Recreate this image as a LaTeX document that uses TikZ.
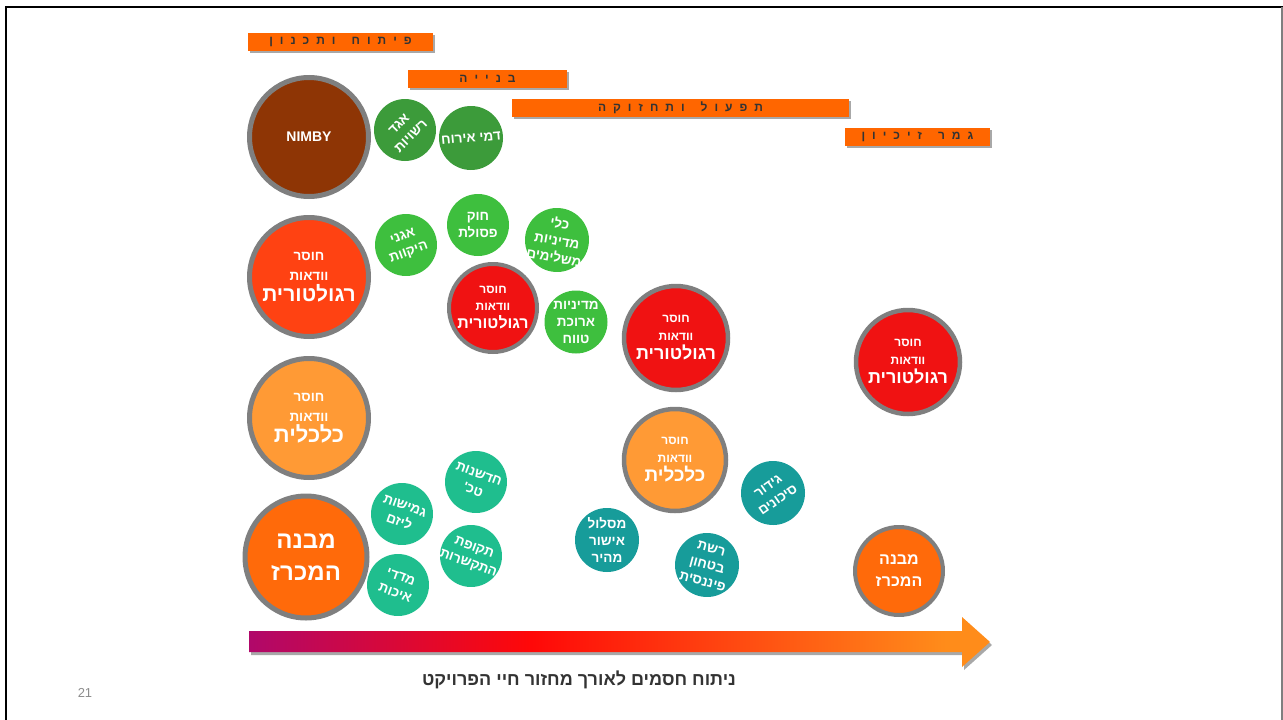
\documentclass[tikz,border=0pt]{standalone}
\usepackage{fontspec}
\setmainfont{Liberation Sans}
\newfontfamily\hebfont[Script=Hebrew]{Liberation Sans}
\TeXXeTstate=1
\newcommand{\heb}[1]{\beginR #1\endR}
\newcommand{\fs}[2]{\fontsize{#1}{#2}\selectfont}
\newcommand{\spaced}[1]{{\spaceskip=7pt\relax\beginR #1\endR}}
\definecolor{ringgray}{HTML}{7F7F7F}
\definecolor{cbrown}{HTML}{8E3505}
\definecolor{cdkgreen}{HTML}{3C9B3A}
\definecolor{cltgreen}{HTML}{3EBF3E}
\definecolor{corred}{HTML}{FF4212}
\definecolor{cred}{HTML}{F01212}
\definecolor{cltorange}{HTML}{FF9A35}
\definecolor{corange}{HTML}{FF6A0A}
\definecolor{cteal}{HTML}{1FBE8E}
\definecolor{cdkteal}{HTML}{179C9A}
\definecolor{barorange}{HTML}{FF6600}
\definecolor{bartext}{HTML}{333333}
\definecolor{shadowgray}{HTML}{A8A8A8}
\definecolor{apurple}{HTML}{B0086A}
\definecolor{ared}{HTML}{FF0808}
\definecolor{aorange}{HTML}{FF8C1A}
\pgfdeclarehorizontalshading{lifeshade}{100bp}{color(0bp)=(apurple); color(25bp)=(apurple); color(44bp)=(ared); color(72bp)=(aorange); color(100bp)=(aorange)}
\tikzset{
  phasebar/.style={fill=barorange, inner sep=0pt, minimum height=18pt, text=bartext,
    font=\hebfont\bfseries\fs{12}{13}},
  ringed/.style={circle, draw=ringgray, inner sep=0pt, text=white, align=center},
  bubble/.style={circle, inner sep=-10pt, minimum size=62pt, text=white, align=center, font=\hebfont\bfseries\fs{13.5}{17}},
}
\newcommand{\wg}{\hspace{16pt}}
\begin{document}
\begin{tikzpicture}[x=1pt,y=-1pt]
\useasboundingbox (0,0) rectangle (1283,720);
% frame
\draw[line width=2.5pt] (6,720) -- (6,7) -- (1283,7);
\draw[ringgray, line width=1.5pt] (1282,7) -- (1282,720);

% phase bars
\foreach \cx/\cy/\w in {340.5/42/185, 487.5/79/159, 680.5/108/337, 917.5/137/145}
  \fill[shadowgray] (\cx-\w/2+2,\cy-9+2) rectangle (\cx+\w/2+2,\cy+9+2);
\node[phasebar, minimum width=185pt] (bar1) at (340.5,42) {\spaced{פ י ת ו ח\wg ו ת כ נ ו ן}};
\node[phasebar, minimum width=159pt] (bar2) at (487.5,79) {\spaced{ב נ י י ה}};
\node[phasebar, minimum width=337pt] (bar3) at (680.5,108) {\spaced{ת פ ע ו ל\wg ו ת ח ז ו ק ה}};
\node[phasebar, minimum width=145pt] (bar4) at (917.5,137) {\spaced{ג מ ר\wg ז י כ י ו ן}};

% large column
\node[ringed, fill=cbrown, line width=5pt, minimum size=119pt, font=\bfseries\fs{14}{16}] (nimby) at (309,137) {NIMBY};
\node[ringed, fill=corred, line width=5pt, minimum size=119pt, font=\hebfont\bfseries\fs{13.5}{20}] (reg1) at (309,277)
  {\heb{חוסר}\\\heb{וודאות}\\[1pt]\fs{21}{21}\heb{רגולטורית}};
\node[ringed, fill=cltorange, line width=5pt, minimum size=119pt, font=\hebfont\bfseries\fs{13.5}{20}] (eco1) at (309,418)
  {\heb{חוסר}\\\heb{וודאות}\\[1pt]\fs{22}{22}\heb{כלכלית}};
\node[ringed, fill=corange, line width=5pt, minimum size=122pt, font=\hebfont\bfseries\fs{24}{32}] (tender1) at (306,557)
  {\heb{מבנה}\\\heb{המכרז}};

% small bubbles
\node[bubble, fill=cdkgreen, rotate=45] (agad) at (405,130) {\heb{אגד}\\\heb{רשויות}};
\node[bubble, fill=cdkgreen, minimum size=64pt, rotate=5] (dmei) at (471,138) {\heb{דמי אירוח}};
\node[bubble, fill=cltgreen, rotate=20] (agni) at (406,245) {\heb{אגני}\\\heb{היקוות}};
\node[bubble, fill=cltgreen] (hok) at (478,225) {\heb{חוק}\\\heb{פסולת}};
\node[bubble, fill=cltgreen, minimum size=64pt, rotate=-10] (kli) at (557,240) {\heb{כלי}\\\heb{מדיניות}\\\heb{משלימים}};
\node[bubble, fill=cltgreen, minimum size=63pt] (arukat) at (576,322) {\heb{מדיניות}\\\heb{ארוכת}\\\heb{טווח}};

\node[ringed, fill=cred, line width=4pt, minimum size=88pt, font=\hebfont\bfseries\fs{12}{17}] (reg2) at (493,308)
  {\heb{חוסר}\\\heb{וודאות}\\[1pt]\fs{16}{16}\heb{רגולטורית}};
\node[ringed, fill=cred, line width=4.5pt, minimum size=104pt, font=\hebfont\bfseries\fs{12}{18}] (reg3) at (676,338)
  {\heb{חוסר}\\\heb{וודאות}\\[1pt]\fs{18}{18}\heb{רגולטורית}};
\node[ringed, fill=cred, line width=4.5pt, minimum size=104pt, font=\hebfont\bfseries\fs{12}{18}] (reg4) at (908,362)
  {\heb{חוסר}\\\heb{וודאות}\\[1pt]\fs{18}{18}\heb{רגולטורית}};
\node[ringed, fill=cltorange, line width=4.5pt, minimum size=102pt, font=\hebfont\bfseries\fs{12}{18}] (eco2) at (675,460)
  {\heb{חוסר}\\\heb{וודאות}\\[1pt]\fs{19}{19}\heb{כלכלית}};

\node[bubble, fill=cteal, rotate=-20] (hadshanut) at (476,482) {\heb{חדשנות}\\\heb{טכ'}};
\node[bubble, fill=cteal, rotate=-20] (gmishut) at (402,514) {\heb{גמישות}\\\heb{ליזם}};
\node[bubble, fill=cteal, rotate=-20] (tkufat) at (471,556) {\heb{תקופת}\\\heb{התקשרות}};
\node[bubble, fill=cteal, rotate=-20] (madadei) at (398,585) {\heb{מדדי}\\\heb{איכות}};

\node[bubble, fill=cdkteal, minimum size=64pt] (maslul) at (607,540) {\heb{מסלול}\\\heb{אישור}\\\heb{מהיר}};
\node[bubble, fill=cdkteal, minimum size=64pt, rotate=-15] (reshet) at (707,565) {\heb{רשת}\\\heb{בטחון}\\\heb{פיננסית}};
\node[bubble, fill=cdkteal, minimum size=64pt, rotate=35] (gidur) at (773,493) {\heb{גידור}\\\heb{סיכונים}};

\node[ringed, fill=corange, line width=4pt, minimum size=88pt, font=\hebfont\bfseries\fs{16}{22}] (tender2) at (899,571)
  {\heb{מבנה}\\\heb{המכרז}};

% life-cycle arrow
\fill[shadowgray] (251,634) -- (964,634) -- (964,620) -- (992,645) -- (964,670) -- (964,655) -- (251,655) -- cycle;
\shade[shading=lifeshade] (249,631) -- (962,631) -- (962,617) -- (990,642) -- (962,667) -- (962,652) -- (249,652) -- cycle;

\node[text=bartext, font=\hebfont\bfseries\fs{18}{20}] (caption) at (579,680) {\heb{ניתוח חסמים לאורך מחזור חיי הפרויקט}};
\node[text=ringgray!90, font=\fs{13}{15}] (pagenum) at (85,693) {21};
\end{tikzpicture}
\end{document}
